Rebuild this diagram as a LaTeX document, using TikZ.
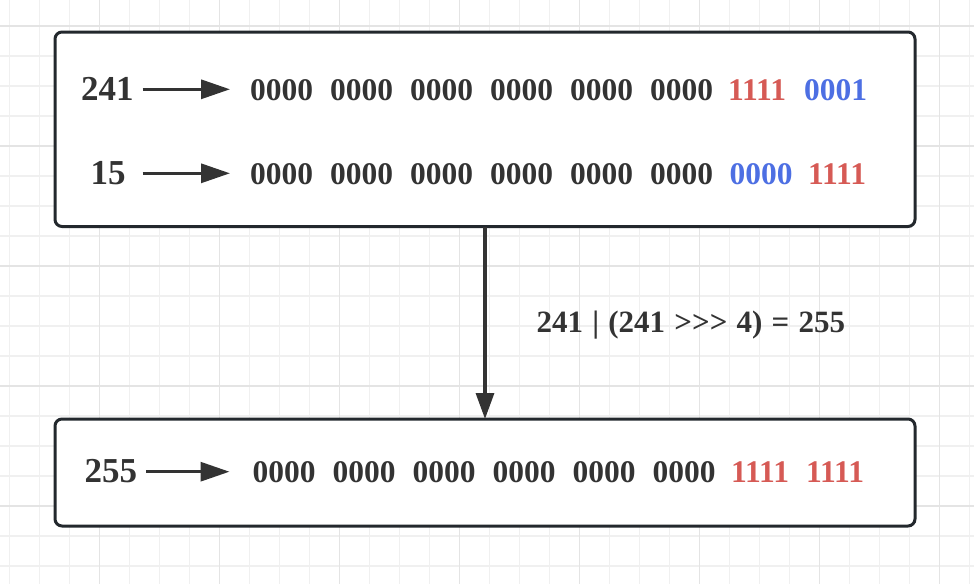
\documentclass[tikz,border=0pt]{standalone}
\usepackage{fontspec}
\setmainfont{Liberation Serif}
\usetikzlibrary{arrows.meta}
\definecolor{txt}{HTML}{333333}
\definecolor{boxc}{HTML}{23282D}
\definecolor{redc}{HTML}{D65A55}
\definecolor{bluec}{HTML}{4D6FE3}
\definecolor{gridminor}{HTML}{F0F0F0}
\definecolor{gridmajor}{HTML}{E4E4E4}
\begin{document}
\begin{tikzpicture}[x=1pt,y=-1pt,
  panel/.style={draw=boxc, line width=3pt, fill=white, rounded corners=7pt, inner sep=0pt, outer sep=0pt},
  bits/.style={anchor=base west, inner sep=0pt, font=\fontsize{31.5}{36}\selectfont\bfseries, text=txt},
  num/.style={anchor=base west, inner sep=0pt, font=\fontsize{35}{40}\selectfont\bfseries, text=txt},
  formula/.style={anchor=base west, inner sep=0pt, font=\fontsize{31}{36}\selectfont\bfseries, text=txt, execute at begin node={\spaceskip=9.2pt\relax}},
  conn/.style={draw=txt, line width=3.2pt, -{Triangle[length=29pt,width=19pt]}},
  vconn/.style={draw=txt, line width=3.2pt, -{Triangle[length=26pt,width=18pt]}},
  minorline/.style={draw=gridminor, line width=1.2pt},
  majorline/.style={draw=gridmajor, line width=1.2pt}]
\useasboundingbox (0,0) rectangle (974,584);
\fill[white] (0,0) rectangle (974,584);
% grid
\foreach \i in {0,...,32} \draw[minorline] ({9.3+30*\i},0) -- ({9.3+30*\i},584);
\foreach \j in {0,...,18} \draw[minorline] (0,{26+30*\j}) -- (974,{26+30*\j});
\foreach \i in {0,...,7} \draw[majorline] ({99.3+120*\i},0) -- ({99.3+120*\i},584);
\foreach \j in {0,...,4} \draw[majorline] (0,{26+120*\j}) -- (974,{26+120*\j});
% panels
\node[panel, minimum width=860pt, minimum height=194.5pt] (top) at (485,129.25) {};
\node[panel, minimum width=860pt, minimum height=107pt] (bot) at (485,472.5) {};
% row 1
\node[num] (n241) at (81,100.5) {241};
\foreach \k in {1,...,6} \node[bits] (r1g\k) at ({250+80*(\k-1)},100) {0000};
\node[bits, text=redc] (r1g7) at (728,100) {1111};
\node[bits, text=bluec] (r1g8) at (804,100) {0001};
\coordinate (a1s) at (142.5,89.3);
\coordinate (a1e) at (230,89.3);
\draw[conn] (a1s) -- (a1e);
% row 2
\node[num] (n15) at (90.5,184.5) {15};
\foreach \k in {1,...,6} \node[bits] (r2g\k) at ({250+80*(\k-1)},184) {0000};
\node[bits, text=bluec] (r2g7) at (729.5,184) {0000};
\node[bits, text=redc] (r2g8) at (808,184) {1111};
\coordinate (a2s) at (142.5,173.3);
\coordinate (a2e) at (230,173.3);
\draw[conn] (a2s) -- (a2e);
% connector
\draw[vconn] (top.south) -- (bot.north);
\node[formula] (lbl) at (536.5,332.3) {241 | (241 >{}>{}> 4) = 255};
% row 3
\node[num] (n255) at (84.5,482.5) {255};
\foreach \k in {1,...,6} \node[bits] (r3g\k) at ({252.5+80*(\k-1)},482) {0000};
\node[bits, text=redc] (r3g7) at (731,482) {1111};
\node[bits, text=redc] (r3g8) at (806,482) {1111};
\coordinate (a3s) at (146,471.7);
\coordinate (a3e) at (229.5,471.7);
\draw[conn] (a3s) -- (a3e);
\end{tikzpicture}
\end{document}
